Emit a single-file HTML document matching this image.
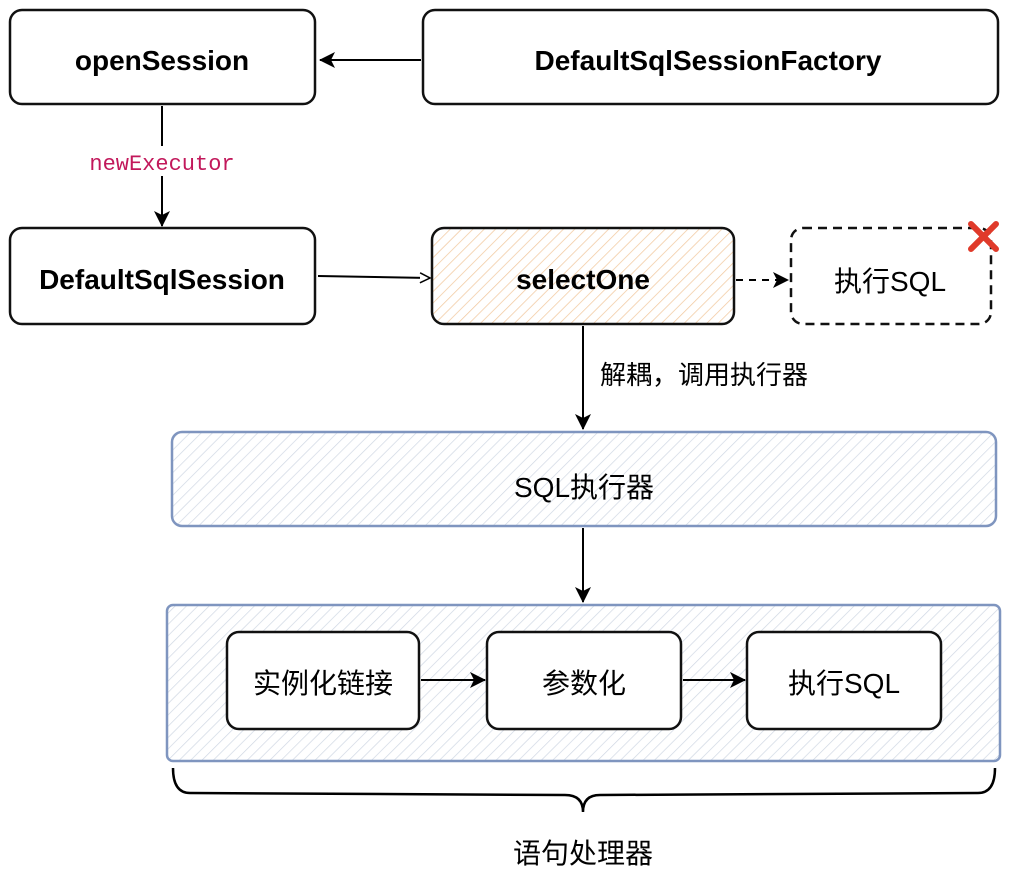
<!DOCTYPE html>
<html><head><meta charset="utf-8"><style>
html,body{margin:0;padding:0;background:#fff;width:1010px;height:874px;overflow:hidden}
text{font-family:"Liberation Sans","Noto Sans CJK SC",sans-serif;fill:#000}
</style></head><body>
<svg width="1010" height="874" xmlns="http://www.w3.org/2000/svg">
<defs>
<pattern id="ho" width="8" height="8" patternUnits="userSpaceOnUse" patternTransform="rotate(45)"><line x1="0" y1="0" x2="0" y2="8" stroke="#f2c9a0" stroke-width="1.5"/></pattern>
<pattern id="hb" width="8" height="8" patternUnits="userSpaceOnUse" patternTransform="rotate(45)"><line x1="0" y1="0" x2="0" y2="8" stroke="#cfd7e3" stroke-width="1.4"/></pattern>
<marker id="a" markerWidth="18" markerHeight="16" refX="15" refY="8" orient="auto" markerUnits="userSpaceOnUse"><path d="M0,0 L16,8 L0,16 L4,8z" fill="#000"/></marker>
<marker id="ao" markerWidth="12" markerHeight="12" refX="11" refY="6" orient="auto" markerUnits="userSpaceOnUse"><path d="M1,1 L11,6 L1,11" fill="#fff" stroke="#000" stroke-width="1.5"/></marker>
</defs>
<g stroke="#111" stroke-width="2.5" fill="#fff">
<rect x="10" y="10" width="305" height="94" rx="12"/>
<rect x="423" y="10" width="575" height="94" rx="12"/>
<rect x="10" y="228" width="305" height="96" rx="12"/>
<rect x="432" y="228" width="302" height="96" rx="12" fill="url(#ho)"/>
<rect x="791" y="228" width="200" height="96" rx="12" stroke-dasharray="9,6"/>
</g>
<rect x="172" y="432" width="824" height="94" rx="10" fill="url(#hb)" stroke="#7f95bf" stroke-width="2.5"/>
<rect x="167" y="605" width="833" height="156" rx="6" fill="url(#hb)" stroke="#7f95bf" stroke-width="2.5"/>
<g stroke="#111" stroke-width="2.5" fill="#fff">
<rect x="227" y="632" width="192" height="97" rx="12"/>
<rect x="487" y="632" width="194" height="97" rx="12"/>
<rect x="747" y="632" width="194" height="97" rx="12"/>
</g>
<g stroke="#000" stroke-width="2" fill="none">
<line x1="421" y1="60" x2="320" y2="60" marker-end="url(#a)"/>
<line x1="162" y1="106" x2="162" y2="146"/>
<line x1="162" y1="176" x2="162" y2="226" marker-end="url(#a)"/>
<line x1="318" y1="276" x2="430" y2="278" marker-end="url(#ao)"/>
<line x1="736" y1="280" x2="788" y2="280" stroke-dasharray="7,6" marker-end="url(#a)"/>
<line x1="583" y1="326" x2="583" y2="429" marker-end="url(#a)"/>
<line x1="583" y1="528" x2="583" y2="602" marker-end="url(#a)"/>
<line x1="421" y1="680" x2="485" y2="680" marker-end="url(#a)"/>
<line x1="683" y1="680" x2="745" y2="680" marker-end="url(#a)"/>
<path d="M173,768 Q173,793 190,793 L565,795 Q583,795 583,812 Q583,795 600,795 L978,793 Q995,793 995,768" stroke-width="2.5"/>
</g>
<g stroke="#e03a2a" stroke-width="6" stroke-linecap="round"><line x1="971" y1="224" x2="996" y2="249"/><line x1="996" y1="224" x2="971" y2="249"/></g>
<g font-size="28" text-anchor="middle" font-weight="bold">
<text x="162" y="70">openSession</text>
<text x="708" y="70">DefaultSqlSessionFactory</text>
<text x="162" y="289">DefaultSqlSession</text>
<text x="583" y="289">selectOne</text>
</g>
<g font-size="28" text-anchor="middle">
<text x="890" y="291">执行SQL</text>
<text x="584" y="497">SQL执行器</text>
<text x="323" y="693">实例化链接</text>
<text x="584" y="693">参数化</text>
<text x="844" y="693">执行SQL</text>
<text x="583" y="863">语句处理器</text>
</g>
<text x="162" y="170" font-size="22" text-anchor="middle" style="fill:#c2185b;font-family:'Liberation Mono',monospace">newExecutor</text>
<text x="600" y="384" font-size="26">解耦，调用执行器</text>
</svg>
</body></html>
